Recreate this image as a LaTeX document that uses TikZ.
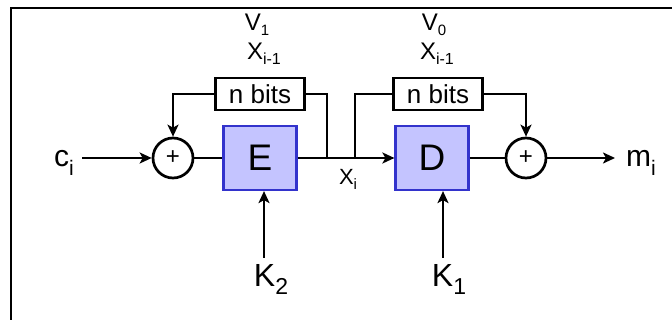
\documentclass[tikz,border=0pt]{standalone}
\usepackage{fontspec}
\setmainfont{Liberation Sans}
\usetikzlibrary{arrows.meta}
\definecolor{boxfill}{RGB}{196,196,255}
\definecolor{boxedge}{RGB}{51,51,204}
\newcommand\lsub[3]{\raisebox{-#1}{\fontsize{#2}{#2}\selectfont #3}}
\begin{document}
\begin{tikzpicture}[x=1pt,y=-1pt,
  wire/.style={line width=2.7pt},
  arr/.style={wire,-{Stealth[length=12pt,width=11pt,inset=3pt]}},
  cipher/.style={draw=boxedge, fill=boxfill, line width=2.2pt, minimum width=73pt, minimum height=64pt, inner sep=0pt, font=\fontsize{37}{37}\selectfont},
  reg/.style={draw, line width=2.7pt, minimum width=89pt, minimum height=32pt, inner sep=0pt, font=\fontsize{26}{26}\selectfont},
  xor/.style={draw, circle, line width=2.7pt, minimum size=40pt, inner sep=0pt, font=\fontsize{24}{24}\selectfont},
  lbl/.style={inner sep=0pt, anchor=base, font=\fontsize{30}{30}\selectfont},
  small/.style={inner sep=0pt, anchor=base, font=\fontsize{24}{24}\selectfont}]
\useasboundingbox (0,0) rectangle (672,320);
\draw[line width=2pt] (11,320) -- (11,8) -- (672,8);

\node[xor] (x1) at (173,158) {+};
\node[cipher] (E) at (260,158) {E};
\node[reg] (r1) at (260,94) {n bits};
\node[cipher] (D) at (432,158) {D};
\node[reg] (r2) at (438,94) {n bits};
\node[xor] (x2) at (526,158) {+};

\node[lbl] (ci) at (64,167) {c\lsub{9pt}{21}{i}};
\node[lbl] (mi) at (641,167) {m\lsub{9pt}{21}{i}};
\node[lbl,font=\fontsize{32}{32}\selectfont] (k2) at (271,287) {K\lsub{8pt}{23}{2}};
\node[lbl,font=\fontsize{32}{32}\selectfont] (k1) at (449,287) {K\lsub{8pt}{23}{1}};
\node[small] (v1) at (257,31) {V\lsub{5pt}{15}{1}};
\node[small] (xa) at (264,60) {X\lsub{5pt}{16}{i-1}};
\node[small] (v0) at (434,31) {V\lsub{5pt}{15}{0}};
\node[small] (xb) at (437,60) {X\lsub{5pt}{16}{i-1}};
\node[small,font=\fontsize{22}{22}\selectfont] (xi) at (348,185) {X\lsub{5pt}{15}{i}};

\coordinate (cs) at (82,158);
\coordinate (me) at (615,158);
\coordinate (j1) at (327,158);
\coordinate (j2) at (355,158);
\coordinate (k2s) at (264,258);
\coordinate (k1s) at (443,258);

\draw[arr] (cs) -- (x1.west);
\draw[wire] (x1.east) -- (E.west);
\draw[arr] (E.east) -- (D.west);
\draw[wire] (j1) |- (r1.east);
\draw[arr] (r1.west) -| (x1.north);
\draw[wire] (j2) |- (r2.west);
\draw[arr] (r2.east) -| (x2.north);
\draw[wire] (D.east) -- (x2.west);
\draw[arr] (x2.east) -- (me);
\draw[arr] (k2s) -- (k2s |- E.south);
\draw[arr] (k1s) -- (k1s |- D.south);
\end{tikzpicture}
\end{document}
